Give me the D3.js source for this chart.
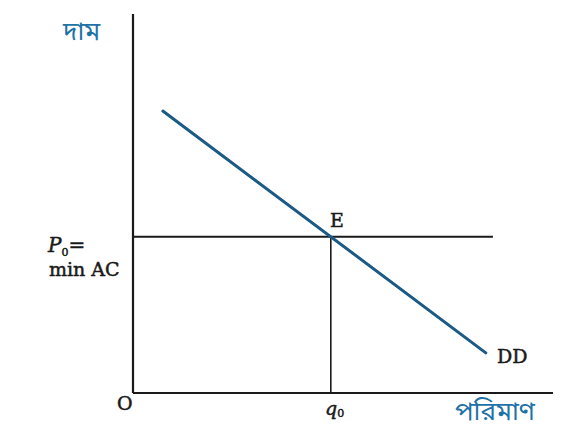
<!DOCTYPE html>
<html><head><meta charset="utf-8">
<script src="https://cdn.jsdelivr.net/npm/d3@7"></script>
<style>body{margin:0;background:#fff}</style>
</head><body>
<svg id="c" width="574" height="431"></svg>
<script>
// Data (price/quantity units, 0-100)
const demandQ = [7.1, 84];
const demandP = [74.4, 10.6];
const eqQ = [47.1];
const eqP = [41.2];
const priceLineEndQ = [85.7];
const axisLabels = ["দাম", "পরিমাণ"];
const pointLabels = ["E", "DD", "O"];
const tickLabels = ["q", "P", "min AC"];

const svg = d3.select("#c");
const x = d3.scaleLinear().domain([0, 100]).range([133, 553]);
const y = d3.scaleLinear().domain([0, 100]).range([393, 14]);
const ink = "#1a1a1a";
const blue = "#1e72a6";
const serif = "'DejaVu Serif', 'Liberation Serif', serif";
const beng = "'Noto Sans Bengali','Noto Sans', sans-serif";

// axes
svg.append("line").attr("x1", x(0)).attr("y1", y(0)).attr("x2", x(0)).attr("y2", y(100))
  .attr("stroke", ink).attr("stroke-width", 2.2);
svg.append("line").attr("x1", x(0)).attr("y1", y(0)).attr("x2", x(100)).attr("y2", y(0))
  .attr("stroke", ink).attr("stroke-width", 2.2);

// price line P0
svg.append("line").attr("x1", x(0)).attr("y1", y(eqP[0])).attr("x2", x(priceLineEndQ[0])).attr("y2", y(eqP[0]))
  .attr("stroke", ink).attr("stroke-width", 2);
// q0 drop line
svg.append("line").attr("x1", x(eqQ[0])).attr("y1", y(eqP[0])).attr("x2", x(eqQ[0])).attr("y2", y(0))
  .attr("stroke", ink).attr("stroke-width", 1.6);

// demand line
const line = d3.line().x(d => x(d[0])).y(d => y(d[1]));
svg.append("path").datum(d3.zip(demandQ, demandP)).attr("d", line)
  .attr("fill", "none").attr("stroke", "#1b5a86").attr("stroke-width", 3).attr("stroke-linecap", "round");

// labels
function txt(t, xx, yy, opts = {}) {
  return svg.append("text").attr("x", xx).attr("y", yy).text(t)
    .attr("font-family", opts.family || serif).attr("font-size", opts.size || 19)
    .attr("fill", opts.fill || ink).attr("font-weight", opts.weight || "normal")
    .attr("stroke", opts.fill || ink).attr("stroke-width", opts.sw == null ? 0.5 : opts.sw)
    .attr("text-anchor", opts.anchor || "start");
}
txt(axisLabels[0], 63, 40, {family: beng, size: 26, fill: blue, sw: 0});
txt(axisLabels[1], 455, 420, {family: beng, size: 26, fill: blue, sw: 0});
txt(pointLabels[0], 330, 227);
txt(pointLabels[1], 497, 363);
txt(pointLabels[2], 117, 410);
const q = txt(tickLabels[0], 325, 415).attr("font-style", "italic");
q.append("tspan").text("0").attr("font-size", 11).attr("dy", 2).attr("font-style", "normal");
const p = txt(tickLabels[1], 48, 252, {size: 20}).attr("font-style", "italic");
p.append("tspan").text("0").attr("font-size", 11).attr("dy", 4).attr("font-style", "normal");
p.append("tspan").text("=").attr("dy", -4).attr("font-style", "normal").attr("font-size", 20);
txt(tickLabels[2], 49, 276);
</script>
</body></html>
